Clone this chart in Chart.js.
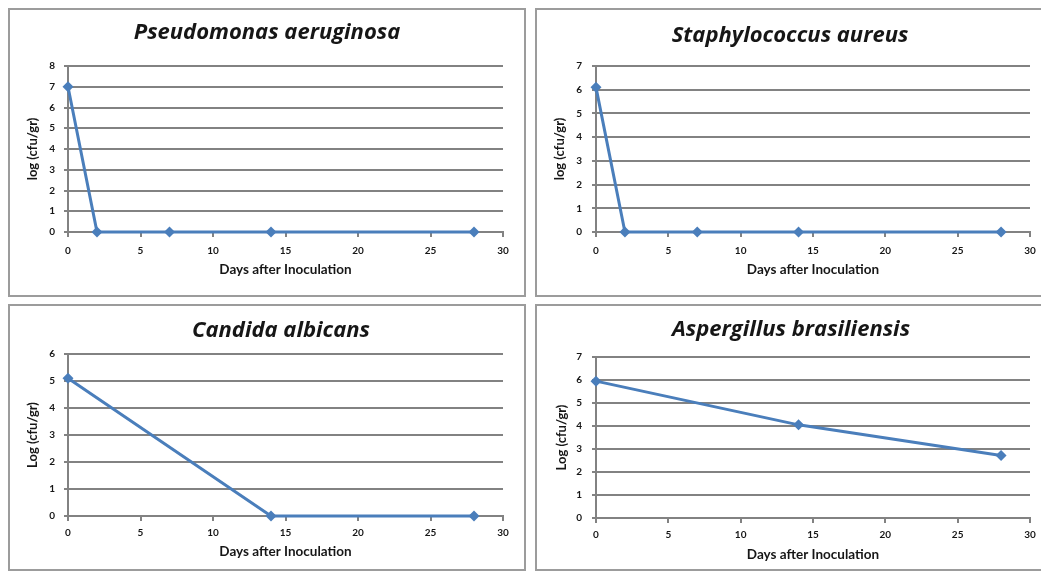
<!DOCTYPE html>
<html>
<head>
<meta charset="utf-8">
<script src="https://cdn.jsdelivr.net/npm/chart.js@4/dist/chart.umd.min.js"></script>
<style>
  html, body { margin: 0; padding: 0; background: #fff; }
  body { width: 1041px; height: 571px; overflow: hidden; position: relative; }
  .panel { position: absolute; }
  .panel .frame { position: absolute; left: 0; top: 0; right: 0; bottom: 0; border: 2px solid #9c9c9c; box-sizing: border-box; }
  .panel canvas { position: absolute; left: 0; top: 0; }
</style>
</head>
<body>
<script>
// data
const titles = ['Pseudomonas aeruginosa', 'Staphylococcus aureus', 'Candida albicans', 'Aspergillus brasiliensis'];
const yTitles = ['log (cfu/gr)', 'log (cfu/gr)', 'Log (cfu/gr)', 'Log (cfu/gr)'];
const xTitle = 'Days after Inoculation';
const daysBacteria = [0, 2, 7, 14, 28];
const daysFungi = [0, 14, 28];
const pseudomonas = [7, 0, 0, 0, 0];
const staphylococcus = [6.1, 0, 0, 0, 0];
const candida = [5.1, 0, 0];
const aspergillus = [5.95, 4.05, 2.72];
const xTicks = [0, 5, 10, 15, 20, 25, 30];
const yMaxes = [8, 7, 6, 7];

const series = [
    [daysBacteria, pseudomonas],
    [daysBacteria, staphylococcus],
    [daysFungi, candida],
    [daysFungi, aspergillus]
];

// panel boxes and plot area offsets (canvas coords)
const panels = [
    {left: 8,   top: 8,   w: 518, h: 289, areaL: 60, areaR: 495, areaT: 58, areaB: 224, titleX: 259, titleY: 25,   tickPad: 9, xTitleOff: 27, yTitleX: 25, yTickPad: 9},
    {left: 535, top: 8,   w: 520, h: 289, areaL: 61, areaR: 495, areaT: 58, areaB: 224, titleX: 255, titleY: 28,   tickPad: 9, xTitleOff: 27, yTitleX: 25, yTickPad: 10},
    {left: 8,   top: 304, w: 518, h: 267, areaL: 60, areaR: 495, areaT: 50, areaB: 212, titleX: 273, titleY: 26.5, tickPad: 7, xTitleOff: 19, yTitleX: 25, yTickPad: 9},
    {left: 535, top: 304, w: 520, h: 267, areaL: 61, areaR: 495, areaT: 53, areaB: 214, titleX: 256, titleY: 26,   tickPad: 7, xTitleOff: 16, yTitleX: 27, yTickPad: 10}
];

const blue = '#4A7EBB';
const gridGray = '#828282';
const textColor = '#161616';
const titleFont = 'italic bold 22px "Open Sans"';
const xTitleSize = 13.5;
const yTitleSize = 13;

// panel title, placed where the original puts it
const panelTitle = {
    id: 'panelTitle',
    afterDraw(chart, args, opts) {
        const ctx = chart.ctx;
        ctx.save();
        ctx.font = titleFont;
        ctx.fillStyle = textColor;
        ctx.textAlign = 'center';
        ctx.textBaseline = 'middle';
        ctx.fillText(opts.text, opts.x, opts.y);
        ctx.restore();
    }
};

function makePanel(i) {
    const p = panels[i];
    const wrap = document.createElement('div');
    wrap.className = 'panel';
    wrap.style.left = p.left + 'px';
    wrap.style.top = p.top + 'px';
    wrap.style.width = p.w + 'px';
    wrap.style.height = p.h + 'px';
    const frame = document.createElement('div');
    frame.className = 'frame';
    wrap.appendChild(frame);
    const canvas = document.createElement('canvas');
    canvas.width = p.w;
    canvas.height = p.h;
    wrap.appendChild(canvas);
    document.body.appendChild(wrap);

    const [days, values] = series[i];
    const points = days.map((d, k) => ({x: d, y: values[k]}));

    new Chart(canvas.getContext('2d'), {
        type: 'line',
        data: {
            datasets: [{
                data: points,
                borderColor: blue,
                backgroundColor: blue,
                borderWidth: 3,
                pointStyle: 'rectRot',
                pointRadius: 5.5,
                pointBorderWidth: 0,
                pointBackgroundColor: blue,
                tension: 0,
                clip: false
            }]
        },
        plugins: [panelTitle],
        options: {
            responsive: false,
            animation: false,
            devicePixelRatio: 1,
            layout: {padding: {left: 0, top: p.areaT, bottom: 0, right: p.w - p.areaR}},
            plugins: {
                legend: {display: false},
                tooltip: {enabled: false},
                title: {display: false},
                panelTitle: {text: titles[i], x: p.titleX, y: p.titleY}
            },
            scales: {
                x: {
                    type: 'linear',
                    min: 0,
                    max: 30,
                    afterBuildTicks: (s) => { s.ticks = xTicks.map(v => ({value: v})); },
                    afterFit: (s) => { s.height = p.h - p.areaB; },
                    grid: {drawOnChartArea: false, drawTicks: true, tickLength: 5, color: gridGray, lineWidth: 2},
                    border: {display: true, color: gridGray, width: 2},
                    ticks: {color: textColor, padding: p.tickPad - 1, maxRotation: 0, font: {family: 'Lato', size: 10, weight: 'bold'}},
                    title: {
                        display: true,
                        text: xTitle,
                        color: textColor,
                        font: {family: 'Lato', size: xTitleSize, weight: 'bold', lineHeight: 1.2},
                        padding: {top: 0, bottom: p.xTitleOff - xTitleSize * 0.6}
                    }
                },
                y: {
                    min: 0,
                    max: yMaxes[i],
                    afterFit: (s) => { s.width = p.areaL; },
                    ticks: {stepSize: 1, color: textColor, padding: p.yTickPad, font: {family: 'Lato', size: 10, weight: 'bold'}},
                    grid: {color: gridGray, lineWidth: 2, tickLength: 4},
                    border: {display: true, color: gridGray, width: 2},
                    title: {
                        display: true,
                        text: yTitles[i],
                        color: textColor,
                        font: {family: 'Lato', size: yTitleSize, weight: 'bold', lineHeight: 1.2},
                        padding: {top: p.yTitleX - yTitleSize * 0.6, bottom: 0}
                    }
                }
            }
        }
    });
}

for (let i = 0; i < panels.length; i++) makePanel(i);
</script>
</body>
</html>
